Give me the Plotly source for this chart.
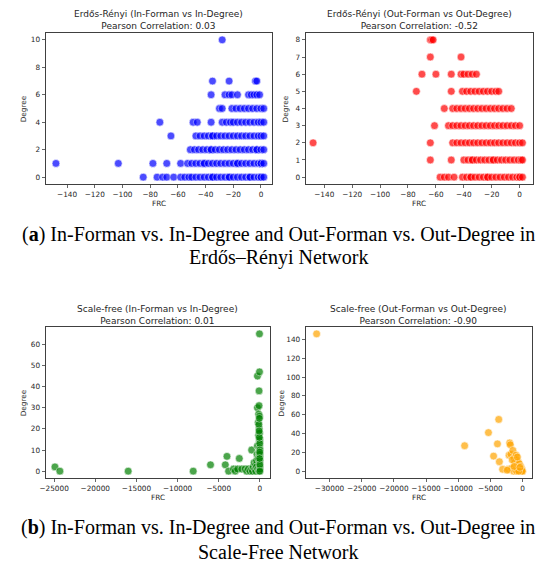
import plotly.graph_objects as go

W, H = 550, 572

# ---------------- Data ----------------
# (a) Erdős–Rényi, In-Forman vs In-Degree (blue): degree -> FRC values
er_in_frc = {
    0: [-85, -75, -71, -68, -63, -58, -55, -52, -50, -47, -44, -41, -38, -35, -35, -32, -29, -26,
        -23, -23, -20, -17, -14, -11, -8, -8, -5, -2, 0, 0, 2],
    1: [-148, -103, -78, -68, -58, -53, -50, -47, -44, -41, -41, -38, -35, -32, -29, -26, -23, -20,
        -17, -17, -14, -11, -8, -5, -2, 0, 0, 2],
    2: [-51, -48, -45, -42, -39, -36, -36, -33, -30, -27, -24, -21, -18, -15, -12, -9, -6, -3,
        -3, 0, 2],
    3: [-65, -47, -44, -41, -38, -35, -35, -32, -29, -26, -23, -20, -17, -14, -11, -8, -5, -2, 0, 2],
    4: [-73, -49, -46, -36, -28, -25, -22, -20, -17, -14, -11, -8, -5, -2, 0, 2],
    5: [-30, -28, -21, -18, -15, -12, -9, -6, -3, 0, 2],
    6: [-36, -26, -23, -21, -17, -9, -7, -5, -3, -1],
    7: [-35, -23, -4, -3],
    10: [-28],
}
# (a) Erdős–Rényi, Out-Forman vs Out-Degree (red): degree -> FRC values
er_out_frc = {
    0: [-57, -54, -51, -47, -41, -38, -35, -35, -32, -29, -26, -23, -23, -20, -17, -14, -11, -8,
        -5, -2, 0, 0, 2],
    1: [-64, -49, -40, -37, -34, -34, -31, -28, -25, -22, -19, -19, -16, -13, -10, -7, -4, -1, 1, 2],
    2: [-148, -64, -48, -45, -42, -39, -36, -33, -30, -27, -24, -21, -18, -15, -12, -9, -6, -3, 0, 2],
    3: [-61, -51, -48, -45, -42, -39, -36, -33, -30, -27, -24, -21, -18, -15, -12, -9, -6, -3, 0],
    4: [-54, -48, -45, -42, -39, -36, -33, -30, -27, -24, -21, -18, -15, -12, -9, -6],
    5: [-74, -49, -41, -38, -35, -32, -29, -26, -23, -20, -17, -15],
    6: [-70, -60, -49, -42, -40, -37, -34, -31],
    7: [-64, -42],
    8: [-64, -63, -62],
}
# (b) Scale-free, In-Forman vs In-Degree (green)
sf_in_frc = [-24900, -24300, -16000, -8100, -6000, -4200, -4000, -3800, -3200, -3000, -2500, -2700,
             -2200, -1800, -1600, -1400, -1200, -1000, -1000, -900, -800, -700, -600, -500, -500,
             -400, -400, -350, -300, -300, -300, -250, -200, -200, -150, -150, -100, -100, -100,
             -100, -80, -60, -50, -50, -50, -50, -40, -30, -20, -20, -10, -10, 0, 0, 0, 0, -5,
             -30, -70, -120, -90, -60, -20, -40]
sf_in_deg = [2, 0, 0, 0, 3, 3, 7, 0, 1, 0, 6, 1,
             1, 1, 0, 1, 0, 10, 1, 0, 2, 4, 1, 3, 0,
             5, 2, 8, 30, 45, 12, 1, 23, 6, 27, 17, 38, 31, 9,
             0, 20, 14, 65, 47, 26, 4, 18, 11, 15, 2, 13, 7, 10, 5, 1, 3, 0,
             8, 16, 22, 19, 25, 9, 6]
# (b) Scale-free, Out-Forman vs Out-Degree (orange)
sf_out_frc = [-32000, -9000, -5300, -3700, -3900, -4500, -3600, -3100, -2000, -1900, -2100, -1800,
              -1500, -1300, -1200, -1000, -900, -800, -700, -600, -500, -400, -300, -200, -100, 0,
              -2200, -1700, -1400, -2400, -1100, -50, -900, -600, -1600, -1300, -800, -400]
sf_out_deg = [146, 27, 41, 55, 29, 16, 10, 2, 30, 28, 17, 18,
              22, 14, 9, 17, 12, 6, 10, 3, 8, 1, 5, 0, 2, 0,
              2, 3, 0, 1, 1, 0, 0, 0, 12, 5, 15, 4]

titles = [
    "Erdős-Rényi (In-Forman vs In-Degree)<br>Pearson Correlation: 0.03",
    "Erdős-Rényi (Out-Forman vs Out-Degree)<br>Pearson Correlation: -0.52",
    "Scale-free (In-Forman vs In-Degree)<br>Pearson Correlation: 0.01",
    "Scale-free (Out-Forman vs Out-Degree)<br>Pearson Correlation: -0.90",
]
caption_a = ["(<b>a</b>) In-Forman vs. In-Degree and Out-Forman vs. Out-Degree in",
             "Erdős–Rényi Network"]
caption_b = ["(<b>b</b>) In-Forman vs. In-Degree and Out-Forman vs. Out-Degree in",
             "Scale-Free Network"]

xticks = [
    [-140, -120, -100, -80, -60, -40, -20, 0],
    [-140, -120, -100, -80, -60, -40, -20, 0],
    [-25000, -20000, -15000, -10000, -5000, 0],
    [-30000, -25000, -20000, -15000, -10000, -5000, 0],
]
yticks = [
    [0, 2, 4, 6, 8, 10],
    [0, 1, 2, 3, 4, 5, 6, 7, 8],
    [0, 10, 20, 30, 40, 50, 60],
    [0, 20, 40, 60, 80, 100, 120, 140],
]

# ---------------- Helpers ----------------
def flatten(d):
    xs, ys = [], []
    for deg, vals in d.items():
        for v in vals:
            xs.append(v)
            ys.append(deg)
    return xs, ys

def fmt(v):
    return str(v).replace("-", "\u2212")

def px_x(p):
    return p / W

def px_y(p):
    return 1 - p / H

# panel boxes in pixels: (left, right, top, bottom)
boxes = [
    (40, 269, 33, 184),
    (303, 533, 33, 184),
    (40, 267, 327, 478),
    (303, 532, 327, 478),
]

fig = go.Figure()
marker_common = dict(size=7.8, opacity=0.7, line=dict(color="white", width=0.6))

x1, y1 = flatten(er_in_frc)
x2, y2 = flatten(er_out_frc)
series = [
    (x1, y1, "blue"),
    (x2, y2, "red"),
    (sf_in_frc, sf_in_deg, "green"),
    (sf_out_frc, sf_out_deg, "orange"),
]
for i, (xs, ys, c) in enumerate(series):
    suffix = "" if i == 0 else str(i + 1)
    fig.add_trace(go.Scatter(x=xs, y=ys, mode="markers", xaxis="x" + suffix, yaxis="y" + suffix,
                             marker=dict(color=c, **marker_common), showlegend=False,
                             hoverinfo="skip"))

tickfont = dict(family="DejaVu Sans", size=7.3, color="#262626")
axis_common = dict(showline=True, mirror=True, linecolor="#404040", linewidth=1,
                   ticks="outside", ticklen=3, tickwidth=0.8, tickcolor="#404040",
                   showgrid=False, zeroline=False, tickfont=tickfont, fixedrange=True)

xranges = [[-155.5, 8], [-153.3, 9.7], [-26040, 1240], [-33700, 1500]]
yranges = [[-0.5, 10.5], [-0.4, 8.4], [-3.25, 68.25], [-7.3, 153.3]]

layout = dict(width=W, height=H, margin=dict(l=0, r=0, t=0, b=0),
              paper_bgcolor="white", plot_bgcolor="white", showlegend=False)
annotations = []
label_font = dict(family="DejaVu Sans", size=7.3, color="#262626")
title_font = dict(family="DejaVu Sans", size=9, color="#262626")
ylabel_x = [18, 283, 18, 279]
for i, (l, r, t, b) in enumerate(boxes):
    suffix = "" if i == 0 else str(i + 1)
    layout["xaxis" + suffix] = dict(axis_common, domain=[px_x(l), px_x(r)], range=xranges[i],
                                    tickvals=xticks[i], ticktext=[fmt(v) for v in xticks[i]],
                                    anchor="y" + suffix)
    layout["yaxis" + suffix] = dict(axis_common, domain=[px_y(b), px_y(t)], range=yranges[i],
                                    tickvals=yticks[i], ticktext=[fmt(v) for v in yticks[i]],
                                    anchor="x" + suffix)
    cx = (l + r) / 2
    annotations.append(dict(text=titles[i], x=px_x(cx), y=px_y(t + 0.5), xref="paper", yref="paper",
                            xanchor="center", yanchor="bottom", showarrow=False, font=title_font))
    annotations.append(dict(text="FRC", x=px_x(cx), y=px_y(b + 19), xref="paper", yref="paper",
                            xanchor="center", yanchor="middle", showarrow=False, font=label_font))
    annotations.append(dict(text="Degree", x=px_x(ylabel_x[i]), y=px_y((t + b) / 2), xref="paper",
                            yref="paper", xanchor="center", yanchor="middle", textangle=-90,
                            showarrow=False, font=label_font))

cap_font = dict(family="Liberation Serif", size=20, color="black")
for lines, ys in ((caption_a, (234, 257)), (caption_b, (527, 552))):
    for txt, yy in zip(lines, ys):
        annotations.append(dict(text=txt, x=0.5, y=px_y(yy), xref="paper", yref="paper",
                                xanchor="center", yanchor="middle", showarrow=False, font=cap_font))
layout["annotations"] = annotations
fig.update_layout(**layout)
fig.write_html("out.html", config={"displayModeBar": False, "staticPlot": True},
               post_script="document.body.style.margin='0';document.body.style.overflow='hidden';")
